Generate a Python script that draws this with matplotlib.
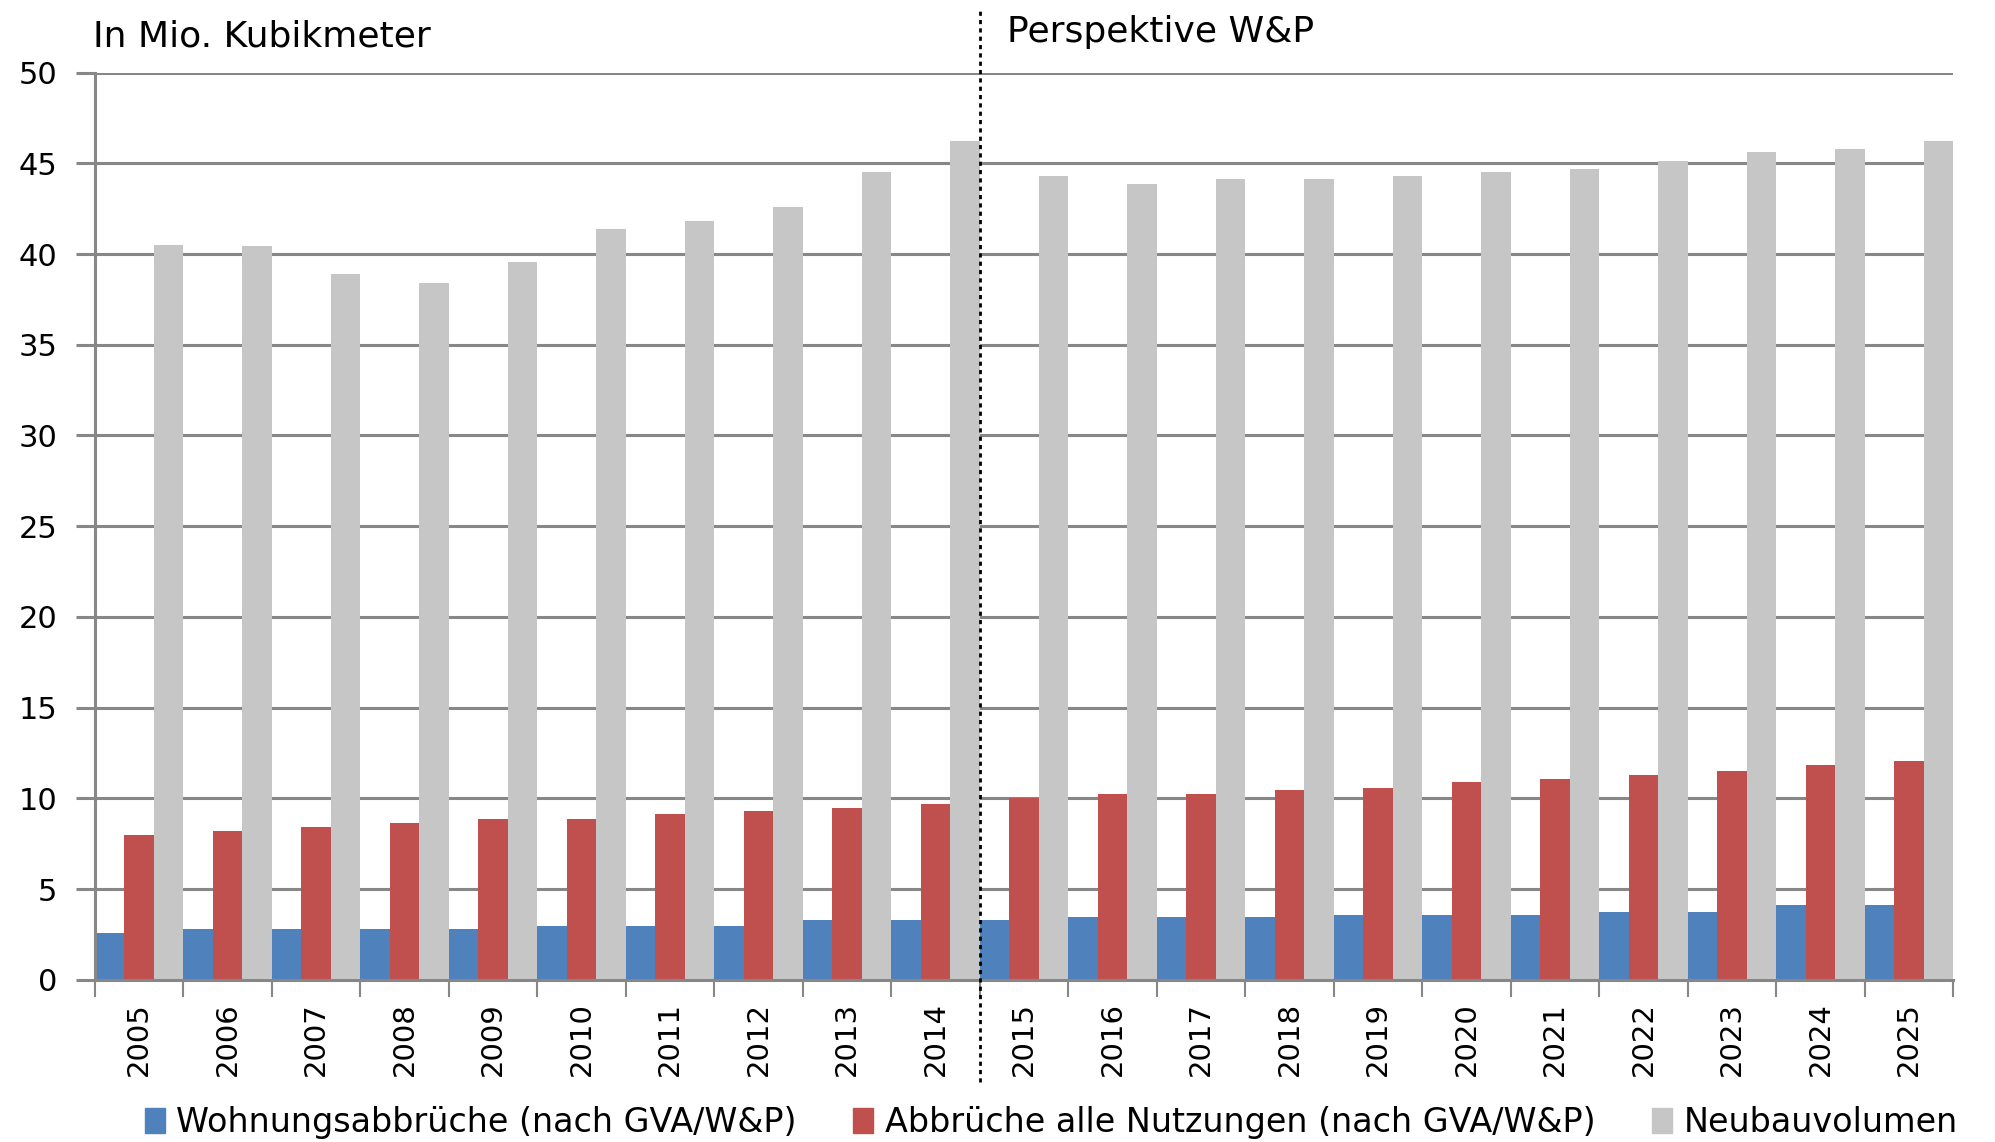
import numpy as np
import matplotlib
matplotlib.use("Agg")
import matplotlib.pyplot as plt
from matplotlib.patches import Patch

jahre = [str(j) for j in range(2005, 2026)]
wohnungsabbrueche = [2.6, 2.8, 2.8, 2.8, 2.8, 3.0, 3.0, 3.0, 3.3, 3.3,
                     3.3, 3.45, 3.45, 3.45, 3.6, 3.6, 3.6, 3.75, 3.75, 4.15, 4.15]
abbrueche_alle = [8.0, 8.2, 8.45, 8.65, 8.85, 8.85, 9.15, 9.3, 9.5, 9.7,
                  10.05, 10.25, 10.25, 10.45, 10.6, 10.9, 11.1, 11.3, 11.5, 11.85, 12.05]
neubauvolumen = [40.5, 40.45, 38.9, 38.4, 39.55, 41.4, 41.8, 42.6, 44.5, 46.2,
                 44.3, 43.85, 44.15, 44.15, 44.3, 44.5, 44.7, 45.1, 45.6, 45.8, 46.2]
yticks = [0, 5, 10, 15, 20, 25, 30, 35, 40, 45, 50]

blau = '#4F81BD'
rot = '#C0504D'
grau = '#C6C6C6'
linie = '#878787'

plt.rcParams['font.family'] = 'DejaVu Sans'

fig = plt.figure(figsize=(19.95, 11.42), dpi=100)
ax = fig.add_axes([0.0476, 0.1419, 0.9314, 0.7946])

x = np.arange(len(jahre))
w = 1 / 3
ax.bar(x - w, wohnungsabbrueche, width=w, color=blau, zorder=2)
ax.bar(x, abbrueche_alle, width=w, color=rot, zorder=2)
ax.bar(x + w, neubauvolumen, width=w, color=grau, zorder=2)

ax.set_xlim(-0.5, len(jahre) - 0.5)
ax.set_ylim(0, 50)
ax.set_yticks(yticks)
ax.set_yticklabels([str(v) for v in yticks], fontsize=22)
ax.yaxis.grid(True, color=linie, linewidth=2.2, zorder=0)
ax.set_axisbelow(True)

ax.set_xticks(x)
ax.set_xticklabels(jahre, rotation=90, fontsize=21)
ax.set_xticks(np.arange(len(jahre) + 1) - 0.5, minor=True)
ax.tick_params(axis='x', which='major', length=0, pad=16)
ax.tick_params(axis='x', which='minor', length=12, width=1.5, color=linie)
ax.tick_params(axis='y', length=14, width=2.2, color=linie, pad=13)

for s in ['top', 'right']:
    ax.spines[s].set_visible(False)
for s in ['left', 'bottom']:
    ax.spines[s].set_color(linie)
    ax.spines[s].set_linewidth(2.2)

# Trennlinie zwischen Ist und Perspektive
ax.axvline(9.5, ymin=-0.112, ymax=1.07, color='black', linestyle=(0, (1.5, 1.5)),
           linewidth=2, clip_on=False, zorder=5)

fig.text(0.0466, 0.968, 'In Mio. Kubikmeter', fontsize=26, va='center', ha='left')
fig.text(0.505, 0.972, 'Perspektive W&P', fontsize=26, va='center', ha='left')

handles = [Patch(color=blau), Patch(color=rot), Patch(color=grau)]
labels = ['Wohnungsabbrüche (nach GVA/W&P)', 'Abbrüche alle Nutzungen (nach GVA/W&P)',
          'Neubauvolumen']
fig.legend(handles, labels, loc='center', bbox_to_anchor=(0.527, 0.017), ncol=3,
           frameon=False, fontsize=24, handlelength=0.6, handleheight=0.8,
           handletextpad=0.35, columnspacing=1.7, borderpad=0, borderaxespad=0)

fig.savefig('out.png', dpi=100)
